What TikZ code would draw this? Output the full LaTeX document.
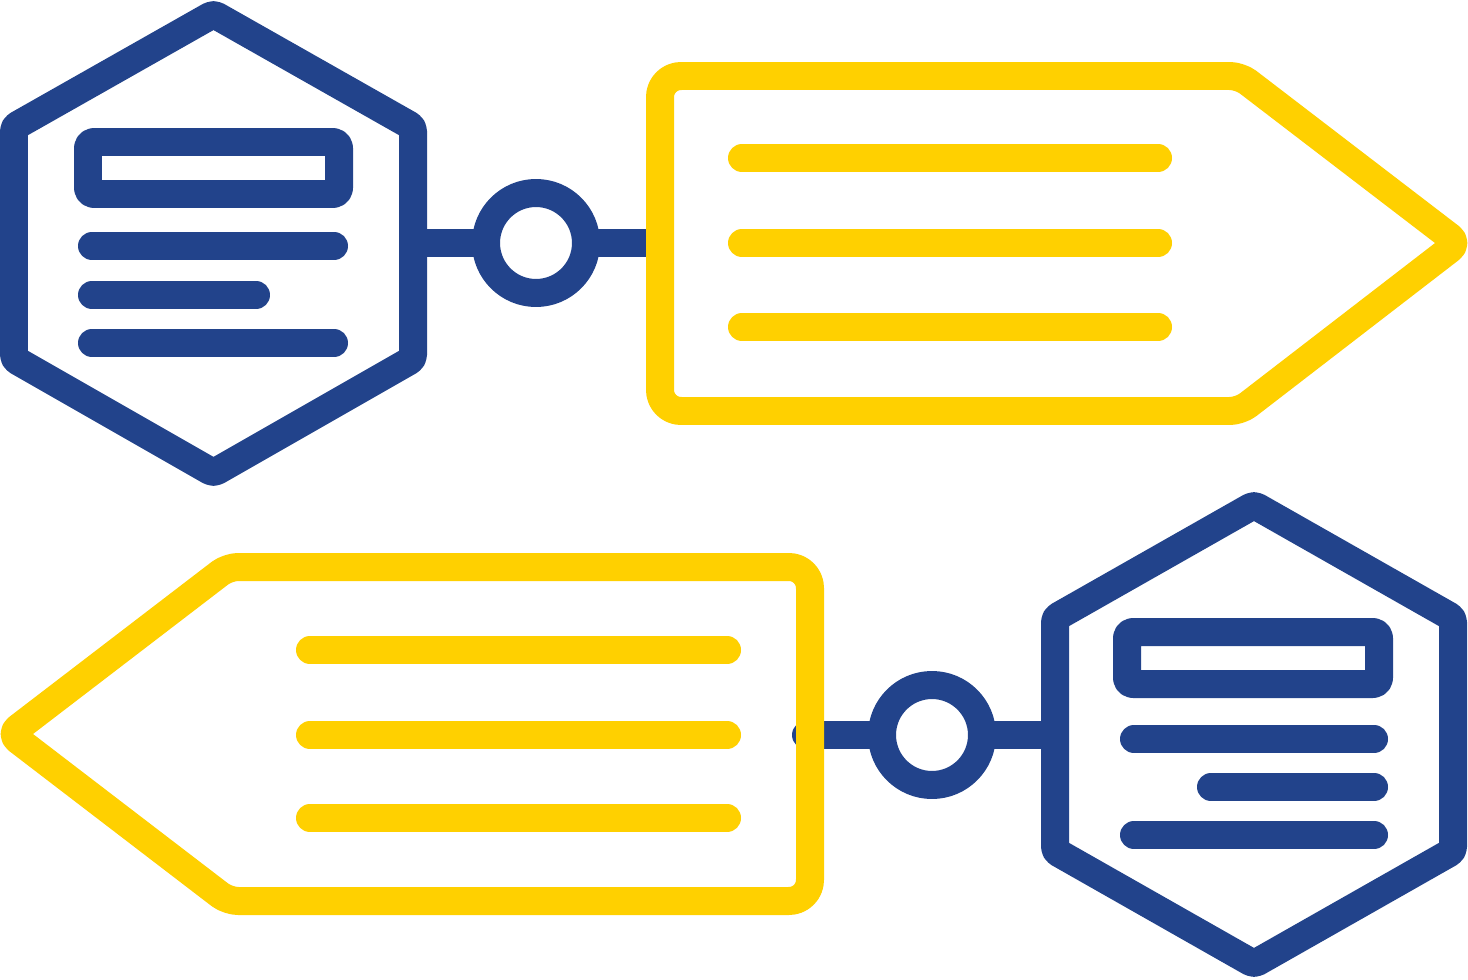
\documentclass[tikz,border=0pt]{standalone}
\usepackage{tikz}
\usetikzlibrary{calc}
\definecolor{hexblue}{RGB}{34,67,139}
\definecolor{tagyellow}{RGB}{255,208,0}

\begin{document}
\begin{tikzpicture}[x=0.02cm,y=-0.02cm,line cap=round,line join=round,
    blueline/.style={line width=0.56cm,color=hexblue},
    yellowline/.style={line width=0.56cm,color=tagyellow},
    ring/.style={blueline,draw,fill=white,circle,inner sep=0pt,minimum size=2cm}]
    \useasboundingbox (0,0) rectangle (1468,980);
    % top row: hexagon -- ring -- tag
    \coordinate (hexAeast) at (413,243);
    \coordinate (tagAwest) at (660,243);
    \coordinate (ringAc) at (536,243);
    \draw [blueline,line cap=butt] (hexAeast)-- (ringAc)-- (tagAwest);
    \node[ring] (ringA) at (ringAc) {};
    \draw [yellowline] (660,243) [rounded corners=0.42cm]-- (660,76) [rounded corners=0.2cm]-- (1240,76)-- (1458,243)-- (1240,411) [rounded corners=0.42cm]-- (660,411)-- cycle;
    \draw [yellowline] (742,158)-- (1158,158);
    \draw [yellowline] (742,243)-- (1158,243);
    \draw [yellowline] (742,327)-- (1158,327);
    \draw [blueline,fill=white,rounded corners=0.08cm] (213.5,14)-- (413,127)-- (413,359)-- (213.5,473)-- (14,359)-- (14,127)-- cycle;
    \draw [blueline,rounded corners=0.12cm] (88,142) rectangle (339,194);
    \draw [blueline] (92,246)-- (334,246);
    \draw [blueline] (92,295)-- (256,295);
    \draw [blueline] (92,343)-- (334,343);
    % bottom row: tag -- ring -- hexagon
    \coordinate (tagBeast) at (806,735);
    \coordinate (hexBwest) at (1055,735);
    \coordinate (ringBc) at (932,735);
    \draw [blueline] (tagBeast)-- (ringBc);
    \draw [blueline,line cap=butt] (ringBc)-- (hexBwest);
    \node[ring] (ringB) at (ringBc) {};
    \draw [yellowline] (810,735) [rounded corners=0.42cm]-- (810,567) [rounded corners=0.2cm]-- (228,567)-- (10,734)-- (228,901) [rounded corners=0.42cm]-- (810,901)-- cycle;
    \draw [yellowline] (310,650)-- (727,650);
    \draw [yellowline] (310,735)-- (727,735);
    \draw [yellowline] (310,818)-- (727,818);
    \draw [blueline,fill=white,rounded corners=0.08cm] (1254,505)-- (1453,618)-- (1453,851)-- (1254,964)-- (1055,851)-- (1055,618)-- cycle;
    \draw [blueline,rounded corners=0.12cm] (1127,632) rectangle (1379,684);
    \draw [blueline] (1134,739)-- (1374,739);
    \draw [blueline] (1211,787)-- (1374,787);
    \draw [blueline] (1134,835)-- (1374,835);
\end{tikzpicture}
\end{document}
